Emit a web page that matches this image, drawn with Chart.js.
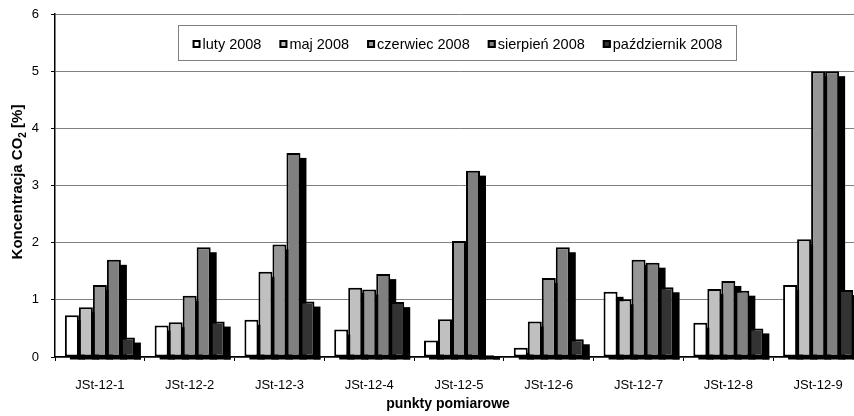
<!DOCTYPE html>
<html>
<head>
<meta charset="utf-8">
<script src="https://cdn.jsdelivr.net/npm/chart.js@4/dist/chart.umd.min.js"></script>
<style>
  html, body { margin: 0; padding: 0; background: #fff; overflow: hidden; }
  #wrap { width: 870px; height: 416px; }
</style>
</head>
<body>
<div id="wrap"><canvas id="co2Chart" width="870" height="416"></canvas></div>
<script>
const points = ["JSt-12-1", "JSt-12-2", "JSt-12-3", "JSt-12-4", "JSt-12-5", "JSt-12-6", "JSt-12-7", "JSt-12-8", "JSt-12-9"];
const seriesNames = ["luty 2008", "maj 2008", "czerwiec 2008", "sierpień 2008", "październik 2008"];
const luty = [0.73, 0.55, 0.65, 0.48, 0.29, 0.16, 1.14, 0.60, 1.26];
const maj = [0.87, 0.61, 1.49, 1.21, 0.66, 0.62, 1.01, 1.19, 2.06];
const czerwiec = [1.26, 1.07, 1.97, 1.18, 2.03, 1.38, 1.70, 1.33, 5.00];
const sierpien = [1.70, 1.92, 3.57, 1.45, 3.26, 1.92, 1.65, 1.16, 5.00];
const pazdziernik = [0.34, 0.62, 0.97, 0.96, 0.03, 0.31, 1.22, 0.50, 1.17];
const yTicks = [0, 1, 2, 3, 4, 5, 6];

const fills = ["#ffffff", "#c0c0c0", "#969696", "#808080", "#333333"];
const FONT = "Arial, 'Liberation Sans', sans-serif";

// black depth on the right of each column + floor under it (fake 3D)
const depthPlugin = {
  id: "depth",
  beforeDatasetsDraw(chart) {
    const ctx = chart.ctx;
    ctx.save();
    ctx.fillStyle = "#000";
    chart.data.datasets.forEach((ds, i) => {
      chart.getDatasetMeta(i).data.forEach((bar) => {
        const p = bar.getProps(["x", "y", "base", "width"], true);
        const right = p.x + p.width / 2;
        const left = p.x - p.width / 2;
        const top = Math.min(p.y + 5, p.base);
        ctx.fillRect(right - 1, top, 7, p.base - top + 3);
        ctx.fillRect(left + 5, p.base, p.width + 1, 3);
      });
    });
    ctx.restore();
  }
};

const textPlugin = {
  id: "texts",
  afterDraw(chart) {
    const ctx = chart.ctx;
    ctx.save();

    // legend box
    ctx.fillStyle = "#fff";
    ctx.fillRect(178, 25, 559, 36);
    ctx.strokeStyle = "#808080";
    ctx.lineWidth = 1;
    ctx.strokeRect(178.5, 25.5, 558, 35);

    ctx.font = "14.5px " + FONT;
    ctx.textBaseline = "middle";
    ctx.textAlign = "left";
    const gap = 18;
    const widths = seriesNames.map((n) => 10 + ctx.measureText(n).width);
    const total = widths.reduce((a, b) => a + b, 0) + gap * (widths.length - 1);
    let x = 457.5 - total / 2;
    seriesNames.forEach((name, i) => {
      ctx.fillStyle = fills[i];
      ctx.fillRect(x, 40, 8, 8);
      ctx.strokeStyle = "#000";
      ctx.lineWidth = 2;
      ctx.strokeRect(x + 1, 41, 6, 6);
      ctx.fillStyle = "#000";
      ctx.fillText(name, x + 10, 44.5);
      x += widths[i] + gap;
    });

    // x axis title
    ctx.font = "bold 14px " + FONT;
    ctx.textAlign = "center";
    ctx.fillText("punkty pomiarowe", 448, 404);

    // y axis title with subscript
    ctx.translate(18, 182);
    ctx.rotate(-Math.PI / 2);
    const big = "bold 15px " + FONT;
    const small = "bold 10px " + FONT;
    ctx.font = big;
    const a = "Koncentracja CO";
    const c = " [%]";
    const wa = ctx.measureText(a).width;
    const wc = ctx.measureText(c).width;
    ctx.font = small;
    const wb = ctx.measureText("2").width;
    let tx = -(wa + wb + wc) / 2;
    ctx.textAlign = "left";
    ctx.font = big;
    ctx.fillText(a, tx, 0);
    ctx.font = small;
    ctx.fillText("2", tx + wa, 5);
    ctx.font = big;
    ctx.fillText(c, tx + wa + wb, 0);

    ctx.restore();
  }
};

const seriesData = [luty, maj, czerwiec, sierpien, pazdziernik];

new Chart(document.getElementById("co2Chart"), {
  type: "bar",
  data: {
    labels: points,
    datasets: seriesData.map((values, i) => ({
      label: seriesNames[i],
      data: values,
      backgroundColor: fills[i],
      borderColor: "#000",
      borderWidth: 2,
      borderSkipped: false,
      categoryPercentage: 0.78,
      barPercentage: 1.0
    }))
  },
  options: {
    responsive: false,
    animation: false,
    devicePixelRatio: 1,
    layout: { padding: { left: 0, right: 7, top: 14, bottom: 0 } },
    plugins: {
      legend: { display: false },
      tooltip: { enabled: false }
    },
    scales: {
      x: {
        grid: {
          display: true,
          drawOnChartArea: false,
          drawTicks: true,
          tickLength: 4,
          tickColor: "#000"
        },
        border: { color: "#000", width: 1.5 },
        ticks: {
          color: "#000",
          font: { family: FONT, size: 13 },
          padding: 17,
          maxRotation: 0
        },
        afterFit(scale) {
          scale.height = 59;
          scale.paddingLeft = 0;
          scale.paddingRight = 0;
        }
      },
      y: {
        min: 0,
        max: 6,
        afterBuildTicks(scale) { scale.ticks = yTicks.map((v) => ({ value: v })); },
        grid: {
          color: "#808080",
          lineWidth: 1,
          tickLength: 4,
          tickColor: "#000"
        },
        border: { color: "#000", width: 1.5 },
        ticks: {
          color: "#000",
          font: { family: FONT, size: 13 },
          padding: 12
        },
        afterFit(scale) {
          scale.width = 55;
          scale.paddingTop = 0;
          scale.paddingBottom = 0;
        }
      }
    }
  },
  plugins: [depthPlugin, textPlugin]
});
</script>
</body>
</html>
